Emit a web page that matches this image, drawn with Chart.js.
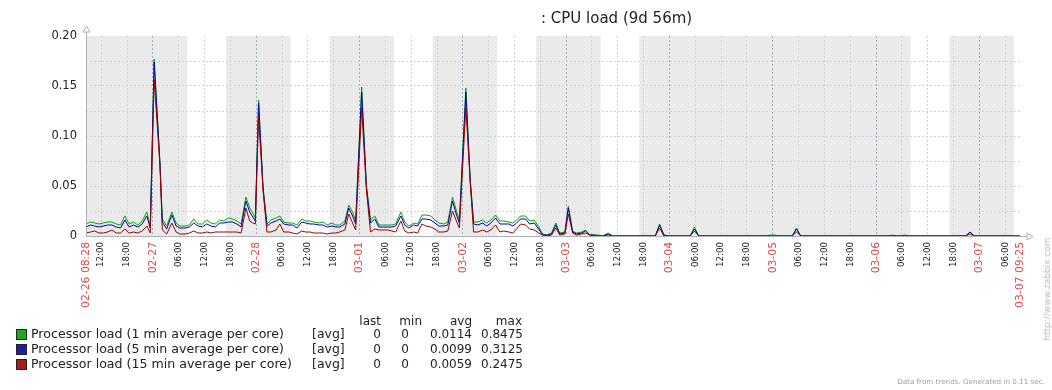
<!DOCTYPE html>
<html><head><meta charset="utf-8">
<script src="https://cdn.jsdelivr.net/npm/chart.js@4.4.0/dist/chart.umd.min.js"></script>
<style>
html,body{margin:0;padding:0;background:#fff;}
#wrap{position:relative;width:1052px;height:390px;overflow:hidden;font-family:"DejaVu Sans",sans-serif;color:#222;}
canvas{position:absolute;left:0;top:0;}
.t{position:absolute;white-space:nowrap;line-height:14px;height:14px;}
.r{text-align:right;}
.sq{position:absolute;width:9px;height:9px;border:1px solid #222;}
</style></head><body>
<div id="wrap"><canvas id="c" width="1052" height="390"></canvas><div id="ov"></div></div>
<script>
const titleText = ': CPU load (9d 56m)';
const hours = [8.47,9.5,10.5,11.5,12.5,13.5,14.5,15.5,16.5,17.5,18.5,19.5,20.5,21.5,22.6,23.4,24.3,25.65,26.2,27.2,28.4,29.4,30.3,31.5,32.5,33.5,34.5,35.5,36.5,37.5,38.5,39.5,40.5,41.5,42.5,43.5,44.5,45.6,46.5,47.2,47.8,48.56,49.6,50.5,51.4,52.6,53.5,54.4,55.6,56.5,57.45,58.6,59.5,60.5,61.4,62.6,63.5,64.4,65.6,66.5,67.4,68.6,69.5,70.4,71.1,72.5,73.6,74.55,75.55,76.5,77.4,78.6,79.5,80.4,81.6,82.5,83.45,84.6,85.5,86.5,87.4,88.55,89.5,90.4,91.6,92.5,93.6,94.6,95.2,96.7,97.7,98.5,99.5,100.6,101.55,102.5,103.6,104.6,105.5,106.7,107.6,108.5,109.4,110.6,111.5,112.6,113.6,114.55,115.5,116.6,117.6,118.5,119.7,120.5,121.5,122.4,123.6,124.5,125.5,126.6,127.5,128.5,129.75,130.8,140.7,141.7,142.7,143.7,148.8,149.8,150.8,166.4,167.4,168.4,169.4,172.5,173.5,174.5,194.8,195.8,196.8,197.6,198.6,199.6,212.8,213.8,214.8,225.42];
const load1 = [.012,.014,.013,.012,.013,.014,.014,.012,.011,.020,.012,.014,.011,.015,.024,.010,.177,.073,.017,.010,.024,.013,.010,.010,.011,.017,.012,.012,.016,.013,.012,.016,.015,.018,.017,.015,.012,.039,.028,.023,.018,.136,.049,.012,.016,.018,.020,.014,.013,.013,.011,.017,.015,.015,.014,.013,.014,.011,.013,.011,.011,.015,.031,.024,.015,.149,.051,.016,.020,.011,.011,.011,.011,.012,.024,.014,.010,.013,.012,.021,.021,.020,.016,.013,.012,.014,.039,.024,.016,.148,.058,.014,.014,.016,.013,.016,.021,.015,.015,.014,.013,.016,.020,.020,.015,.016,.009,.002,.001,.003,.013,.003,.004,.030,.005,.003,.004,.006,.001,.001,.001,0,.003,0,0,.012,.001,0,0,.009,0,0,.001,.001,0,0,.008,0,0,.001,0,0,.001,0,0,.004,0,0];
const load5 = [.009,.011,.010,.009,.010,.011,.011,.009,.008,.016,.009,.011,.009,.012,.020,.008,.174,.072,.014,.007,.021,.010,.008,.008,.009,.013,.010,.009,.012,.010,.009,.013,.013,.014,.014,.012,.009,.035,.024,.019,.015,.133,.047,.010,.013,.015,.017,.012,.011,.011,.008,.014,.013,.012,.012,.011,.011,.009,.010,.009,.009,.012,.028,.020,.012,.144,.049,.013,.017,.009,.009,.009,.009,.010,.020,.011,.008,.011,.010,.017,.017,.016,.013,.010,.010,.011,.035,.020,.013,.144,.056,.012,.011,.013,.010,.013,.018,.012,.012,.012,.010,.013,.017,.017,.012,.013,.007,.001,.001,.002,.011,.002,.003,.028,.004,.002,.003,.005,.001,.001,0,0,.002,0,0,.011,.001,0,0,.007,0,0,0,0,0,0,.007,0,0,0,0,0,0,0,0,.004,0,0];
const load15 = [.003,.004,.005,.003,.003,.004,.006,.003,.003,.007,.003,.004,.003,.005,.010,.003,.156,.070,.006,.002,.013,.004,.002,.002,.003,.005,.003,.003,.004,.003,.004,.004,.004,.004,.004,.004,.003,.028,.015,.013,.012,.119,.045,.004,.004,.006,.012,.004,.004,.003,.002,.005,.004,.004,.003,.003,.003,.002,.003,.003,.004,.006,.022,.013,.006,.128,.046,.004,.007,.006,.006,.006,.005,.004,.015,.005,.003,.004,.003,.012,.010,.009,.007,.004,.004,.005,.025,.014,.008,.129,.054,.004,.004,.006,.004,.006,.011,.004,.005,.004,.003,.007,.012,.011,.007,.006,.003,.001,0,.001,.008,.001,.002,.022,.003,.001,.002,.003,.001,0,0,0,.001,0,0,.008,0,0,0,.005,0,0,0,0,0,0,.004,0,0,0,0,0,0,0,0,.002,0,0];
const seriesNames = ['Processor load (1 min average per core)','Processor load (5 min average per core)','Processor load (15 min average per core)'];
const lineColors = ['#00a800','#0000b4','#a00000'];
const boxColors = ['#1da81d','#1d1da8','#a81d1d'];
const funcLabel = '[avg]';
const colHeaders = ['last','min','avg','max'];
const lastVals = ['0','0','0'];
const minVals = ['0','0','0'];
const avgVals = ['0.0114','0.0099','0.0059'];
const maxVals = ['0.8475','0.3125','0.2475'];
const dayLabels = ['02-26','02-27','02-28','03-01','03-02','03-03','03-04','03-05','03-06','03-07'];
const startHour = 8.467, endHour = 225.417;
const startLabel = '02-26 08:28', endLabel = '03-07 09:25';
const yTickLabels = ['0','0.05','0.10','0.15','0.20'];
const offHours = [[8.467,32],[41,56],[65,80],[89,104],[113,128],[137,200],[209,224]];
const footerText = 'Data from trends. Generated in 0.11 sec.';
const urlText = 'http://www.zabbix.com';

const RED = '#ec4646';
function isEdge(v){return Math.abs(v-startHour)<1e-6||Math.abs(v-endHour)<1e-6;}
function isDay(v){return Math.abs(v%24)<1e-6;}

const bandsPlugin = {
  id:'bands',
  beforeDraw(chart){
    const {ctx, chartArea:a, scales:{x}} = chart;
    ctx.save(); ctx.fillStyle='#eaeaea';
    offHours.forEach(([s,e])=>{
      const x1=x.getPixelForValue(s), x2=x.getPixelForValue(e);
      ctx.fillRect(x1,a.top,x2-x1,a.bottom-a.top);
    });
    ctx.restore();
  }
};
const axesPlugin = {
  id:'axesArrows',
  afterDraw(chart){
    const {ctx, chartArea:a} = chart;
    ctx.save();
    ctx.strokeStyle='#a9b1b9'; ctx.lineWidth=1;
    const L=Math.round(a.left)+0.5, B=Math.round(a.bottom)+0.5;
    ctx.beginPath(); ctx.moveTo(L,B); ctx.lineTo(L,a.top-4); ctx.stroke();
    ctx.beginPath(); ctx.moveTo(L,B); ctx.lineTo(a.right+7,B); ctx.stroke();
    ctx.fillStyle='#fff';
    ctx.beginPath(); ctx.moveTo(L-3.5,a.top-4); ctx.lineTo(L+3.5,a.top-4); ctx.lineTo(L,a.top-10); ctx.closePath(); ctx.fill(); ctx.stroke();
    ctx.beginPath(); ctx.moveTo(a.right+7,B-3.5); ctx.lineTo(a.right+7,B+3.5); ctx.lineTo(a.right+13,B); ctx.closePath(); ctx.fill(); ctx.stroke();
    ctx.restore();
  }
};

const xTicks=[startHour]; for(let h=12;h<=222;h+=6) xTicks.push(h); xTicks.push(endHour);

function mk(vals){return hours.map((h,i)=>({x:h,y:vals[i]}));}

new Chart(document.getElementById('c'),{
  type:'line',
  data:{datasets:[
    {label:seriesNames[0],data:mk(load1),borderColor:lineColors[0],borderWidth:1,pointRadius:0,order:3},
    {label:seriesNames[1],data:mk(load5),borderColor:lineColors[1],borderWidth:1,pointRadius:0,order:2},
    {label:seriesNames[2],data:mk(load15),borderColor:lineColors[2],borderWidth:1,pointRadius:0,order:1}
  ]},
  plugins:[bandsPlugin,axesPlugin],
  options:{
    responsive:false,animation:false,
    layout:{padding:{top:36,left:0,right:32,bottom:0}},
    plugins:{legend:{display:false},tooltip:{enabled:false},title:{display:false}},
    elements:{line:{tension:0}},
    scales:{
      x:{type:'linear',min:startHour,max:endHour,
        afterFit(s){s.height=154;},
        afterBuildTicks(s){s.ticks=xTicks.map(v=>({value:v}));},
        grid:{drawTicks:false,lineWidth:1,
          color:(c)=>{const v=c.tick&&c.tick.value; if(v===undefined||isEdge(v)) return 'rgba(0,0,0,0)'; return isDay(v)?'#a4b0ba':'#cdd5dc';}},
        border:{display:false,dash:[2,2]},
        ticks:{autoSkip:false,minRotation:90,maxRotation:90,padding:6,
          color:(c)=>{const v=c.tick.value; return (isEdge(v)||isDay(v))?RED:'#222';},
          font:(c)=>{const v=c.tick&&c.tick.value; return {family:'DejaVu Sans',size:(v!==undefined&&(isEdge(v)||isDay(v)))?10.8:8.7};},
          callback:(v)=>{ if(Math.abs(v-startHour)<1e-6) return startLabel; if(Math.abs(v-endHour)<1e-6) return endLabel;
            if(isDay(v)) return dayLabels[Math.round(v/24)]; const hh=Math.round(v%24); return (hh<10?'0':'')+hh+':00';}
        }
      },
      y:{type:'linear',min:0,max:0.2,
        afterFit(s){s.width=86;},
        afterBuildTicks(s){const t=[];for(let i=0;i<=8;i++)t.push({value:i*0.025});s.ticks=t;},
        grid:{drawTicks:false,
          color:(c)=>{const v=c.tick&&c.tick.value; if(v===undefined||v<1e-6||v>0.199) return 'rgba(0,0,0,0)'; return '#cdd5dc';}},
        border:{display:false,dash:[2,2]},
        ticks:{padding:9,color:'#222',font:{family:'DejaVu Sans',size:11.5},
          callback:(v)=>{const k=v/0.05; return Math.abs(k-Math.round(k))<1e-6?yTickLabels[Math.round(k)]:'';}}
      }
    }
  }
});

// overlay texts
const ov=document.getElementById('ov');
function add(txt,css,cls){const d=document.createElement('div');d.className='t'+(cls?' '+cls:'');d.textContent=txt;Object.assign(d.style,css);ov.appendChild(d);return d;}
add(titleText,{left:'541px',top:'9px',fontSize:'15px',lineHeight:'18px',height:'18px'});
const rowY=[334,349,364];
const hdr=[[359,381],[400,422],[452,472],[498,522]];
colHeaders.forEach((h,i)=>add(h,{left:(hdr[i][1]-60)+'px',width:'60px',top:(321-7)+'px',fontSize:'12px'},'r'));
seriesNames.forEach((n,i)=>{
  const y=rowY[i];
  const s=document.createElement('div');s.className='sq';s.style.left='16px';s.style.top=(y-5)+'px';s.style.background=boxColors[i];ov.appendChild(s);
  add(n,{left:'31px',top:(y-7)+'px',fontSize:'12.6px'});
  add(funcLabel,{left:'312px',top:(y-7)+'px',fontSize:'12.5px'});
  add(lastVals[i],{left:'321px',width:'60px',top:(y-7)+'px',fontSize:'12px'},'r');
  add(minVals[i],{left:'349px',width:'60px',top:(y-7)+'px',fontSize:'12px'},'r');
  add(avgVals[i],{left:'412px',width:'60px',top:(y-7)+'px',fontSize:'12px'},'r');
  add(maxVals[i],{left:'463px',width:'60px',top:(y-7)+'px',fontSize:'12px'},'r');
});
add(footerText,{right:'7px',top:'375px',fontSize:'7.2px',color:'#a0a0a0'});
const u=add(urlText,{left:'1047px',top:'289px',fontSize:'9px',color:'#bdbdbd',transformOrigin:'0 0'});
u.style.transform='rotate(-90deg) translate(-50%,-50%)';
</script>
</body></html>
